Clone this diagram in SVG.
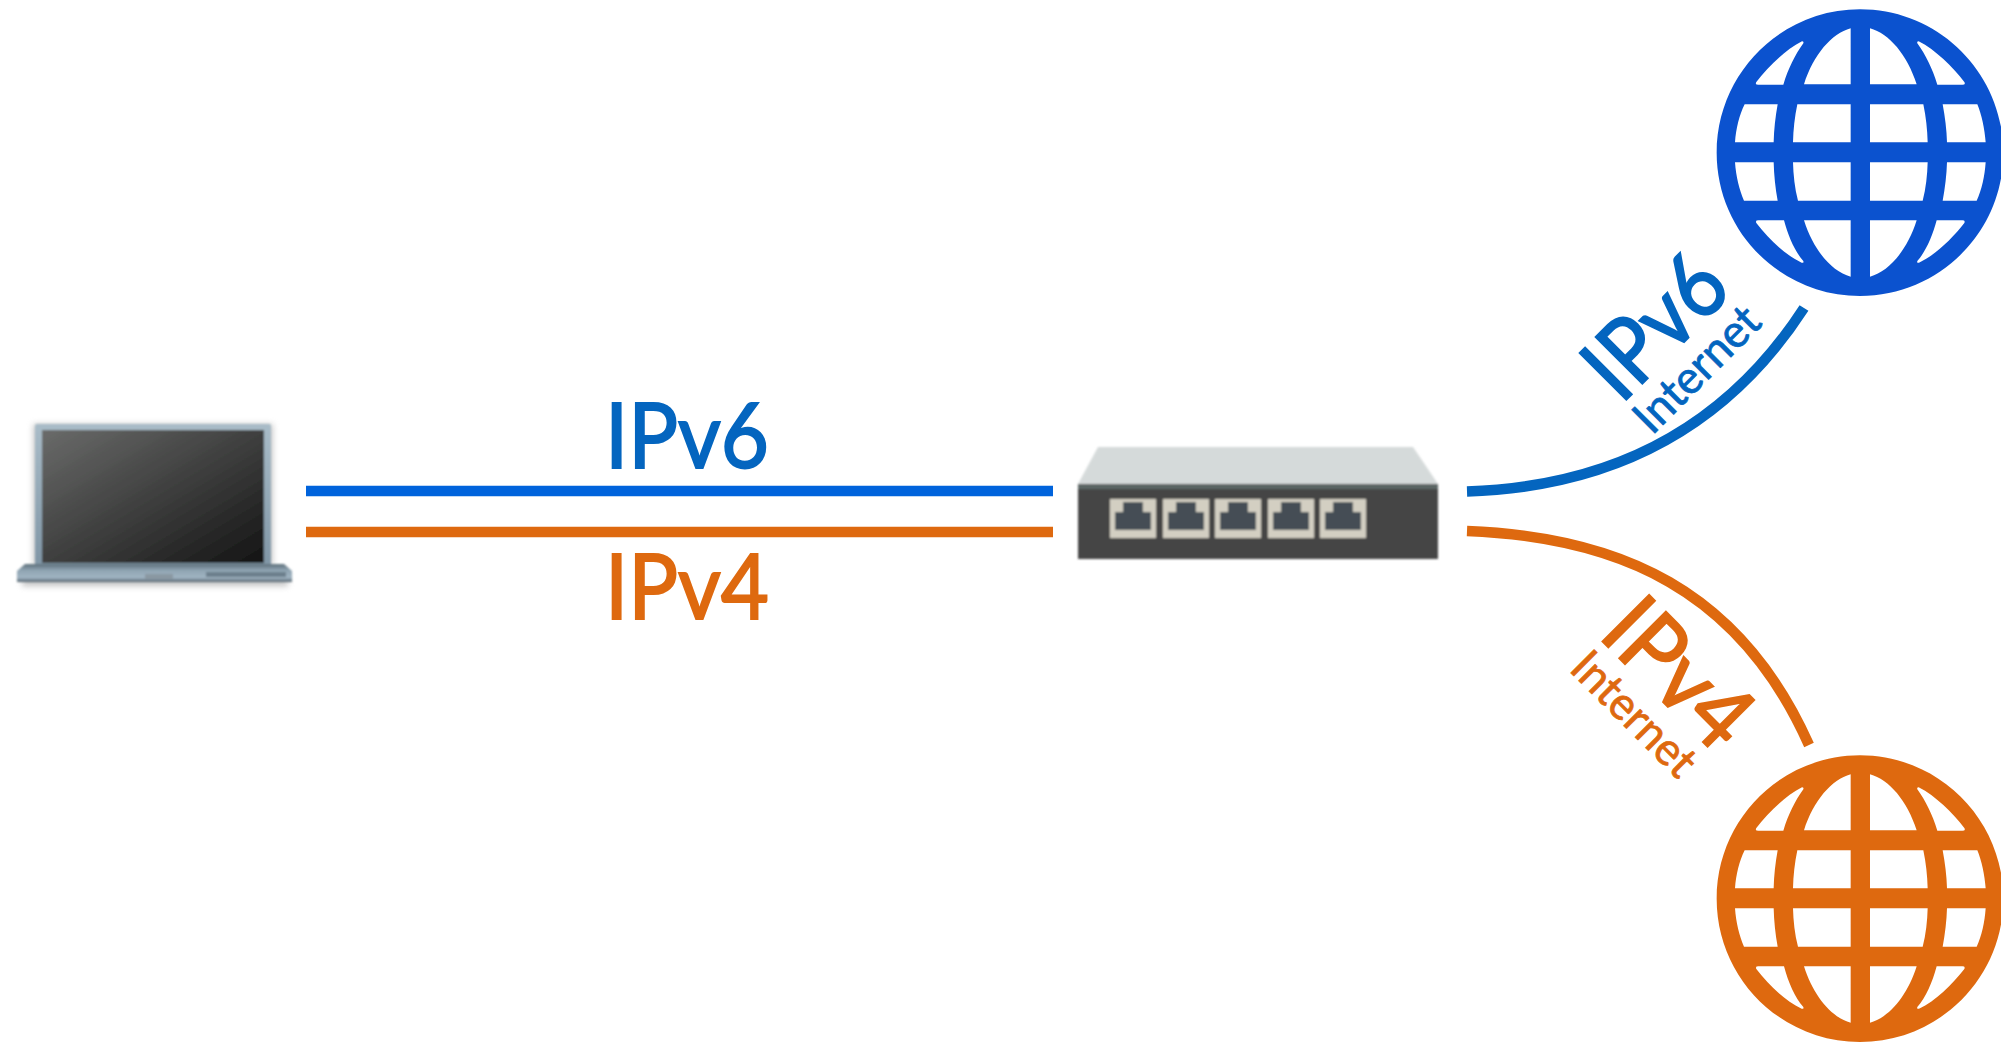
<svg xmlns="http://www.w3.org/2000/svg" xmlns:xlink="http://www.w3.org/1999/xlink" width="2001" height="1043" viewBox="0 0 2001 1043">
<style>
text{font-family:"Lato","Open Sans","Liberation Sans",sans-serif}
.big{font-size:92px;stroke-width:2}
.small{font-size:46px;stroke-width:0.8}
.bt{fill:#0465bf;stroke:#0465bf}
.ot{fill:#de690f;stroke:#de690f}
.wire{fill:none;stroke-width:10.5}
.port{fill:#d3cfc2}
.jack{fill:#444e55}
</style>
<defs>
<filter id="soft" x="-10%" y="-10%" width="120%" height="130%"><feGaussianBlur stdDeviation="0.9"/></filter>
<filter id="shadow" x="-10%" y="-100%" width="120%" height="300%"><feGaussianBlur stdDeviation="3"/></filter>
<linearGradient id="screen" x1="0" y1="0" x2="1" y2="1"><stop offset="0" stop-color="#6a6b6a"/><stop offset="1" stop-color="#141414"/></linearGradient>
<linearGradient id="bezel" x1="0" y1="0" x2="0" y2="1"><stop offset="0" stop-color="#a9bcc8"/><stop offset="1" stop-color="#8096a6"/></linearGradient>
<linearGradient id="base" x1="0" y1="0" x2="0" y2="1"><stop offset="0" stop-color="#5d6e7a"/><stop offset="0.35" stop-color="#8fa4b2"/><stop offset="0.75" stop-color="#a0b4c2"/><stop offset="1" stop-color="#55646f"/></linearGradient>
<path id="globe" fill-rule="evenodd" transform="translate(1700 0) scale(0.33333)" d="M480,28C242,28 50,221 50,458C50,695 242,888 480,888C718,888 910,695 910,458C910,221 718,28 480,28Z
M452,85V253H312C340,165 395,100 452,85Z
M510,85V253H650C622,165 567,100 510,85Z
M306,124Q312,124 310,130C285,165 265,205 250,254H175Q164,254 169,246C205,200 255,150 306,124Z
M656,124Q650,124 652,130C677,165 697,205 712,254H787Q798,254 793,246C757,200 707,150 656,124Z
M134,313H233C226,350 222,390 221,427H105C108,385 118,345 134,313Z
M292,313H452V427H279C280,390 284,350 292,313Z
M510,313H670C678,350 682,390 683,427H510Z
M728,313H832C845,345 854,385 857,427H741C740,390 735,350 728,313Z
M105,487H221C222,525 226,565 233,602H132C118,570 108,530 105,487Z
M279,487H452V602H294C284,565 280,525 279,487Z
M510,487H683C682,525 678,565 668,602H510Z
M741,487H857C854,530 845,570 830,602H728C735,565 740,525 741,487Z
M175,661H252C265,710 285,755 310,783Q312,790 305,788C255,765 205,715 169,669Q165,661 175,661Z
M312,661H452V830C395,815 340,750 312,661Z
M510,661H650C622,750 567,815 510,830Z
M787,661H710C697,710 677,755 652,783Q650,790 657,788C707,765 757,715 793,669Q797,661 787,661Z"/>
<g id="rj45"><rect class="port" width="46" height="39"/><path class="jack" d="M5,31V13H13V3H33V13H41V31Z"/></g>
</defs>
<rect width="2001" height="1043" fill="#fff"/>
<g id="connectors">
<path class="wire" stroke="#0063dc" d="M306,491H1053"/>
<path class="wire" stroke="#de690f" d="M306,532H1053"/>
<path class="wire" stroke="#0465bf" d="M1467,491.500C1610,487 1725,430 1804,308"/>
<path class="wire" stroke="#de690f" d="M1467,531C1620,537 1740,590 1809,745"/>
</g>
<g id="laptop">
<rect x="22" y="574" width="266" height="12" fill="#888" opacity="0.5" filter="url(#shadow)"/>
<rect x="33" y="424" width="240" height="142" fill="#999" opacity="0.5" filter="url(#shadow)"/>
<g filter="url(#soft)">
<rect x="35" y="424" width="236" height="142" rx="2" fill="url(#bezel)"/>
<rect x="42" y="430" width="222" height="133" fill="url(#screen)"/>
<path d="M25,564H284L292,571V582H17V571Z" fill="url(#base)"/>
<rect x="206" y="572" width="80" height="5" fill="#6c7f8c"/>
<rect x="145" y="574" width="28" height="5" fill="#8a98a2"/>
</g>
</g>
<g id="switch" filter="url(#soft)">
<path fill="#d5dada" d="M1098,447H1413L1438,484H1078Z"/>
<rect x="1078" y="484" width="360" height="75" fill="#444"/>
<rect x="1078" y="485" width="360" height="4" fill="#5c6866"/>
<use href="#rj45" x="1110" y="499"/>
<use href="#rj45" x="1163" y="499"/>
<use href="#rj45" x="1215" y="499"/>
<use href="#rj45" x="1268" y="499"/>
<use href="#rj45" x="1320" y="499"/>
</g>
<g id="globe-ipv6"><use href="#globe" fill="#0b52cf"/></g>
<g id="globe-ipv4"><use href="#globe" fill="#de690f" y="746"/></g>
<g id="labels">
<text class="big bt" x="605" y="468" textLength="164" lengthAdjust="spacingAndGlyphs">IPv6</text>
<text class="big ot" x="605" y="619" textLength="164" lengthAdjust="spacingAndGlyphs">IPv4</text>
<text class="big bt" transform="translate(1621 405) rotate(-45)" textLength="160" lengthAdjust="spacingAndGlyphs">IPv6</text>
<text class="small bt" transform="translate(1652 436) rotate(-45)" textLength="158" lengthAdjust="spacingAndGlyphs">Internet</text>
<text class="big ot" transform="translate(1597 636) rotate(45)" textLength="168" lengthAdjust="spacingAndGlyphs">IPv4</text>
<text class="small ot" transform="translate(1568 670) rotate(45)" textLength="156" lengthAdjust="spacingAndGlyphs">Internet</text>
</g>
</svg>
